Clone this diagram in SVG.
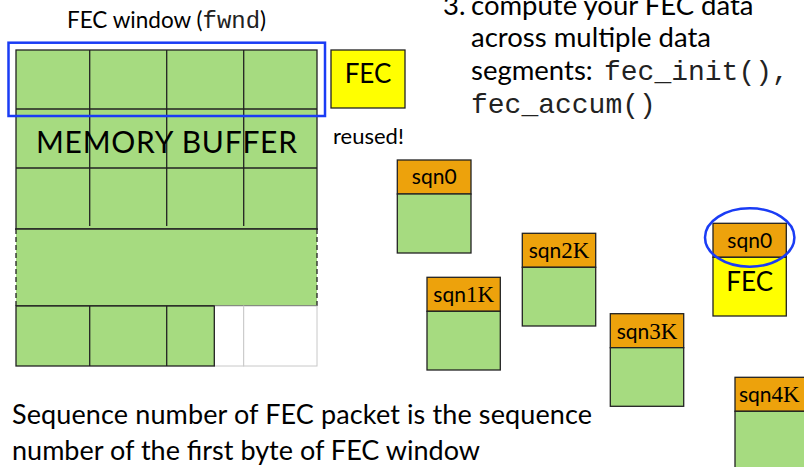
<svg xmlns="http://www.w3.org/2000/svg" width="804" height="467" viewBox="0 0 804 467">
<style>
.sans{font-family:Lato,"Open Sans",sans-serif;fill:#000}
.mono{font-family:"Liberation Mono",monospace;fill:#222}
.serif{font-family:"Liberation Serif",serif}
.grn{fill:#a6db80}
.cell{fill:#a6db80;stroke:#222;stroke-width:1.3}
.hdr{fill:#eda20c;stroke:#222;stroke-width:1.3}
.body{fill:#a6db80;stroke:#222;stroke-width:1.3}
.grid{stroke:#222;stroke-width:1.3;fill:none}
.lbl{font-family:Lato,"Open Sans",sans-serif;font-size:21px;fill:#000;text-anchor:middle}
</style>
<rect width="804" height="467" fill="#fff"/>

<g id="fec-window-label">
<text class="sans" x="67" y="28" font-size="22.5">FEC window (<tspan class="mono" font-size="24">fwnd</tspan>)</text>
</g>

<g id="memory-buffer">
<rect class="cell" x="16" y="50" width="301" height="179"/>
<line class="grid" x1="16" y1="109" x2="317" y2="109"/>
<line class="grid" x1="16" y1="168" x2="317" y2="168"/>
<line class="grid" x1="89.7" y1="50" x2="89.7" y2="226"/>
<line class="grid" x1="166.7" y1="50" x2="166.7" y2="226"/>
<line class="grid" x1="243.7" y1="50" x2="243.7" y2="226"/>
<rect class="grn" x="16" y="229" width="301" height="77"/>
<line class="grid" x1="15" y1="229" x2="318" y2="229"/>
<line class="grid" x1="16" y1="306" x2="317" y2="306"/>
<line class="grid" x1="16" y1="229" x2="16" y2="306" stroke-dasharray="5,3"/>
<line class="grid" x1="317" y1="229" x2="317" y2="306" stroke-dasharray="5,3"/>
<rect x="214.3" y="306" width="29.4" height="60" fill="#fff" stroke="#c8c8c8" stroke-width="1"/>
<rect x="243.7" y="306" width="73.3" height="60" fill="#fff" stroke="#c8c8c8" stroke-width="1"/>
<rect class="cell" x="16" y="306" width="198.3" height="60"/>
<line class="grid" x1="89.7" y1="306" x2="89.7" y2="366"/>
<line class="grid" x1="166.7" y1="306" x2="166.7" y2="366"/>
<text class="sans" x="166.5" y="153" font-size="30" text-anchor="middle" textLength="261">MEMORY BUFFER</text>
</g>

<g id="fec-window">
<rect x="8.5" y="42.7" width="316.5" height="73.3" fill="none" stroke="#1a3cf5" stroke-width="2.5"/>
</g>

<g id="fec-box">
<rect x="331" y="50" width="74" height="58" fill="#ffff00" stroke="#222" stroke-width="1.3"/>
<text class="sans" x="368" y="83" font-size="26" text-anchor="middle">FEC</text>
</g>

<g id="reused-label">
<text class="sans" x="333" y="144" font-size="22">reused!</text>
</g>

<g id="instructions">
<text class="sans" x="443" y="15" font-size="27.5">3.</text>
<text class="sans" x="471" y="15" font-size="27.5">compute your FEC data</text>
<text class="sans" x="471" y="47" font-size="27.5">across multiple data</text>
<text class="sans" x="471" y="80" font-size="27.5">segments: <tspan class="mono" x="604" font-size="28">fec_init(),</tspan></text>
<text class="mono" x="471" y="113" font-size="28">fec_accum()</text>
</g>

<g id="seg-sqn0">
<rect class="hdr" x="397.3" y="160" width="73.7" height="34"/>
<rect class="body" x="397.3" y="194" width="73.7" height="59"/>
<text class="lbl" x="434.2" y="184">sqn0</text>
</g>

<g id="seg-sqn1K">
<rect class="hdr" x="427" y="277.3" width="73.3" height="34"/>
<rect class="body" x="427" y="311.3" width="73.3" height="58.7"/>
<text class="lbl" x="463.7" y="302">sqn<tspan class="serif" font-size="23">1K</tspan></text>
</g>

<g id="seg-sqn2K">
<rect class="hdr" x="522.3" y="233.3" width="73.4" height="34"/>
<rect class="body" x="522.3" y="267.3" width="73.4" height="58.7"/>
<text class="lbl" x="559" y="258">sqn<tspan class="serif" font-size="23">2K</tspan></text>
</g>

<g id="seg-sqn3K">
<rect class="hdr" x="610.3" y="313.7" width="73.4" height="34"/>
<rect class="body" x="610.3" y="347.7" width="73.4" height="58.6"/>
<text class="lbl" x="647" y="338.5">sqn<tspan class="serif" font-size="23">3K</tspan></text>
</g>

<g id="fec-packet">
<rect class="hdr" x="713" y="223.3" width="73.3" height="34"/>
<rect x="713" y="257.3" width="73.3" height="58.7" fill="#ffff00" stroke="#222" stroke-width="1.3"/>
<text class="lbl" x="749.7" y="248">sqn0</text>
<text class="sans" x="749.7" y="291" font-size="26" text-anchor="middle">FEC</text>
<ellipse cx="749.7" cy="237.5" rx="44.7" ry="29.2" fill="none" stroke="#1a3cf5" stroke-width="2.5"/>
</g>

<g id="seg-sqn4K">
<rect class="hdr" x="735" y="377.3" width="80" height="34"/>
<rect class="body" x="735" y="411.3" width="80" height="70"/>
<text class="lbl" x="739" y="402" style="text-anchor:start">sqn<tspan class="serif" font-size="23">4K</tspan></text>
</g>

<g id="caption">
<text class="sans" x="12" y="424" font-size="27" textLength="580">Sequence number of FEC packet is the sequence</text>
<text class="sans" x="12" y="460" font-size="27" textLength="468">number of the first byte of FEC window</text>
</g>

<g id="connectors"></g>
</svg>
